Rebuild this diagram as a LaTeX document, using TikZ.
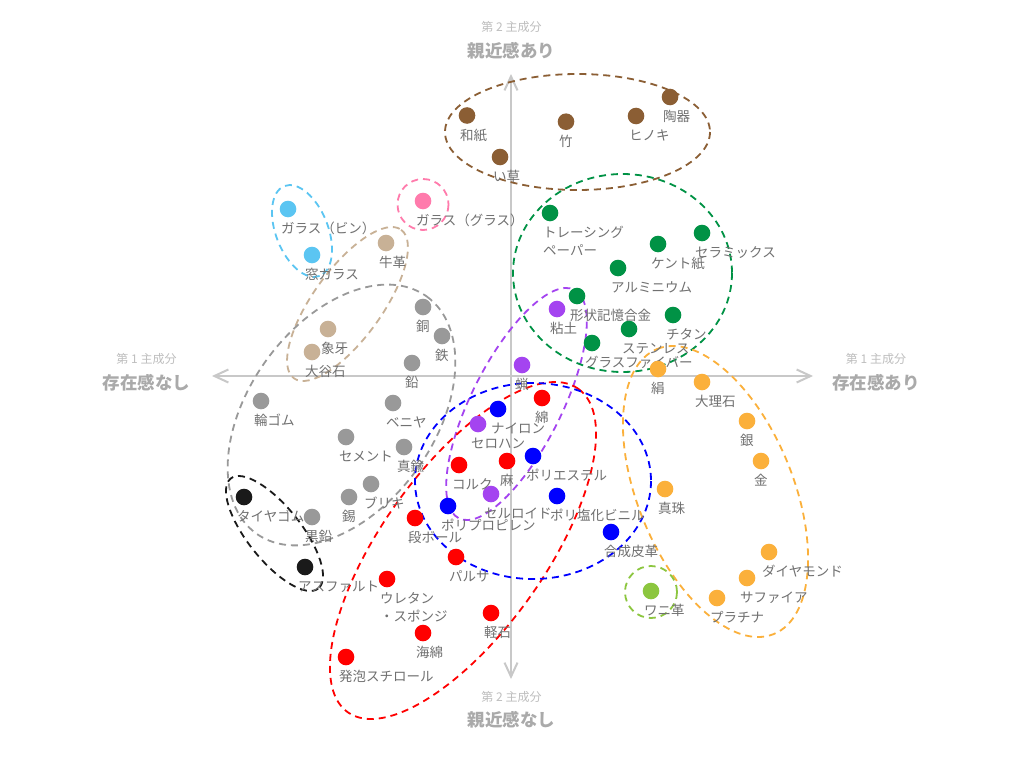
\documentclass[tikz,border=0pt]{standalone}
\usepackage{fontspec}
\setmainfont{Noto Sans CJK JP}
\usetikzlibrary{arrows.meta,calc}
\definecolor{cbrown}{RGB}{139,94,52}
\definecolor{cpink}{RGB}{255,123,172}
\definecolor{clblue}{RGB}{91,197,242}
\definecolor{ctan}{RGB}{200,177,150}
\definecolor{cgray}{RGB}{153,153,153}
\definecolor{cblack}{RGB}{26,26,26}
\definecolor{cpurple}{RGB}{164,68,240}
\definecolor{cred}{RGB}{255,0,0}
\definecolor{cblue}{RGB}{0,0,255}
\definecolor{cgreen}{RGB}{0,146,69}
\definecolor{corange}{RGB}{251,176,59}
\definecolor{clgreen}{RGB}{140,198,63}
\definecolor{axiscol}{RGB}{200,200,200}
\definecolor{lblcol}{RGB}{112,112,112}
\definecolor{axsmallcol}{RGB}{190,190,190}
\definecolor{axbigcol}{RGB}{170,170,170}
\tikzset{
  dotn/.style={circle, minimum size=16.6pt, inner sep=0pt, draw=none},
  lbl/.style={anchor=west, inner sep=0pt, text=lblcol, text height=11.9pt, text depth=1.6pt,
    font=\fontsize{13.5}{18}\selectfont},
  grp/.style={dash pattern=on 7pt off 5pt, line width=1.8pt},
  axisline/.style={draw=axiscol, line width=2pt, {Straight Barb[length=14pt,width=13pt]}-{Straight Barb[length=14pt,width=13pt]}},
  axsmall/.style={inner sep=0pt, text=axsmallcol, text height=10.6pt, text depth=1.4pt,
    font=\fontsize{12}{14}\selectfont},
  axbig/.style={inner sep=0pt, text=axbigcol, text height=15.4pt, text depth=2.1pt,
    font=\fontsize{17.5}{20}\selectfont\bfseries}
}
\newcommand\mpt[5]{%
  \node[dotn, fill=#4] (#1) at (#2,#3) {};
  \node[lbl] (#1-t) at ($(#1)+(-7,19.5)$) {#5};}
\newcommand\mptt[6]{%
  \node[dotn, fill=#4] (#1) at (#2,#3) {};
  \node[lbl] (#1-t) at ($(#1)+(-7,19.5)$) {#5};
  \node[lbl] (#1-u) at ($(#1)+(-7,37.5)$) {#6};}
\begin{document}
\begin{tikzpicture}[x=1pt,y=-1pt]
\fill[white] (0,0) rectangle (1024,768);
\useasboundingbox (0,0) rectangle (1024,768);

% axes
\coordinate (xl) at (212,376);
\coordinate (xr) at (813,376);
\coordinate (yt) at (511,74);
\coordinate (yb) at (511,679);
\draw[axisline] (xl) -- (xr);
\draw[axisline] (yb) -- (yt);

% axis labels
\node[axsmall] (lxs) at (146.5,359) {第 1 主成分};
\node[axbig] (lxb) at (146.5,383) {存在感なし};
\node[axsmall] (rxs) at (876,359) {第 1 主成分};
\node[axbig] (rxb) at (876,383) {存在感あり};
\node[axsmall] (tys) at (511.5,27) {第 2 主成分};
\node[axbig] (tyb) at (511.5,51) {親近感あり};
\node[axsmall] (bys) at (511.5,697) {第 2 主成分};
\node[axbig] (byb) at (511.5,720) {親近感なし};

% groups
\draw[grp, cbrown] (577.5,132) ellipse [x radius=132.5, y radius=58];
\draw[grp, cpink] (423,204.5) circle [radius=25.5];
\draw[grp, clblue, rotate around={-68.6:(302,231)}] (302,231) ellipse [x radius=48.3, y radius=26.1];
\draw[grp, ctan, rotate around={54.2:(347.5,304)}] (347.5,304) ellipse [x radius=91.6, y radius=34.5];
\draw[grp, cgray, rotate around={54.3:(341.5,415)}] (341.5,415) ellipse [x radius=146, y radius=93];
\draw[grp, cblack, rotate around={-51.5:(274.5,533.5)}] (274.5,533.5) ellipse [x radius=70.3, y radius=26.8];
\draw[grp, cpurple, rotate around={63.2:(516.5,404)}] (516.5,404) ellipse [x radius=128, y radius=45];
\draw[grp, cred, rotate around={54.5:(463,550.5)}] (463,550.5) ellipse [x radius=198.6, y radius=81.5];
\draw[grp, cblue] (533,481) ellipse [x radius=118, y radius=98];
\draw[grp, cgreen] (622.5,273) ellipse [x radius=109.5, y radius=99];
\draw[grp, corange, rotate around={112.3:(715.5,491.5)}] (715.5,491.5) ellipse [x radius=154, y radius=77.6];
\draw[grp, clgreen] (651,592) circle [radius=26];

% brown
\mpt{washi}{467}{115.5}{cbrown}{和紙}
\mpt{take}{566}{121.7}{cbrown}{竹}
\mpt{hinoki}{636}{116}{cbrown}{ヒノキ}
\mpt{touki}{670}{97}{cbrown}{陶器}
\mpt{igusa}{500}{157}{cbrown}{い草}
% pink
\mpt{glassg}{423}{201}{cpink}{ガラス（グラス）}
% light blue
\mpt{glassb}{288}{209}{clblue}{ガラス（ビン）}
\mpt{mado}{312}{255}{clblue}{窓ガラス}
% tan
\mpt{gyukaku}{386}{243}{ctan}{牛革}
\mpt{zouge}{328}{329}{ctan}{象牙}
\mpt{ooya}{312}{352}{ctan}{大谷石}
% gray
\mpt{dou}{423}{307}{cgray}{銅}
\mpt{tetsu}{442}{336}{cgray}{鉄}
\mpt{namari}{412}{363}{cgray}{鉛}
\mpt{wagomu}{261}{401}{cgray}{輪ゴム}
\mpt{beniya}{393}{403}{cgray}{ベニヤ}
\mpt{cement}{346}{437}{cgray}{セメント}
\mpt{shinchu}{404}{447}{cgray}{真鍮}
\mpt{buriki}{371}{484}{cgray}{ブリキ}
\mpt{suzu}{349}{497}{cgray}{錫}
\mpt{kokuen}{312}{517}{cgray}{黒鉛}
% black
\mpt{taiya}{244}{497}{cblack}{タイヤゴム}
\mpt{asphalt}{305}{567}{cblack}{アスファルト}
% purple
\mpt{nendo}{557}{309}{cpurple}{粘土}
\mpt{rou}{522}{365}{cpurple}{蝋}
\mpt{cellophane}{478}{424}{cpurple}{セロハン}
\mpt{celluloid}{491}{494}{cpurple}{セルロイド}
% red
\mpt{men}{542}{398}{cred}{綿}
\mpt{cork}{459}{465}{cred}{コルク}
\mpt{asa}{507}{461}{cred}{麻}
\mpt{danball}{415}{518}{cred}{段ボール}
\mpt{balsa}{456}{557}{cred}{パルサ}
\mptt{urethane}{387}{579}{cred}{ウレタン}{・スポンジ}
\mpt{kaimen}{423}{633}{cred}{海綿}
\mpt{karuishi}{491}{613}{cred}{軽石}
\mpt{happo}{346}{657}{cred}{発泡スチロール}
% blue
\mpt{nylon}{498}{409}{cblue}{ナイロン}
\mpt{polyester}{533}{456}{cblue}{ポリエステル}
\mpt{pvc}{557}{496}{cblue}{ポリ塩化ビニル}
\mpt{pp}{448}{506}{cblue}{ポリプロピレン}
\mpt{gosei}{611}{532}{cblue}{合成皮革}
% green
\mptt{tracing}{550}{213}{cgreen}{トレーシング}{ペーパー}
\mpt{kent}{658}{244}{cgreen}{ケント紙}
\mpt{ceramics}{702}{233}{cgreen}{セラミックス}
\mpt{alumi}{618}{268}{cgreen}{アルミニウム}
\mpt{keijo}{577}{296}{cgreen}{形状記憶合金}
\mpt{titan}{673}{315}{cgreen}{チタン}
\mpt{stainless}{629}{329}{cgreen}{ステンレス}
\mpt{glassfiber}{592}{343}{cgreen}{グラスファイバー}
% orange
\mpt{kinu}{658}{369}{corange}{絹}
\mpt{dairiseki}{702}{382}{corange}{大理石}
\mpt{gin}{747}{421}{corange}{銀}
\mpt{kin}{761}{461}{corange}{金}
\mpt{shinju}{665}{489}{corange}{真珠}
\mpt{diamond}{769}{552}{corange}{ダイヤモンド}
\mpt{sapphire}{747}{578}{corange}{サファイア}
\mpt{platina}{717}{598}{corange}{プラチナ}
% light green
\mpt{wani}{651}{591}{clgreen}{ワニ革}
\end{tikzpicture}
\end{document}
